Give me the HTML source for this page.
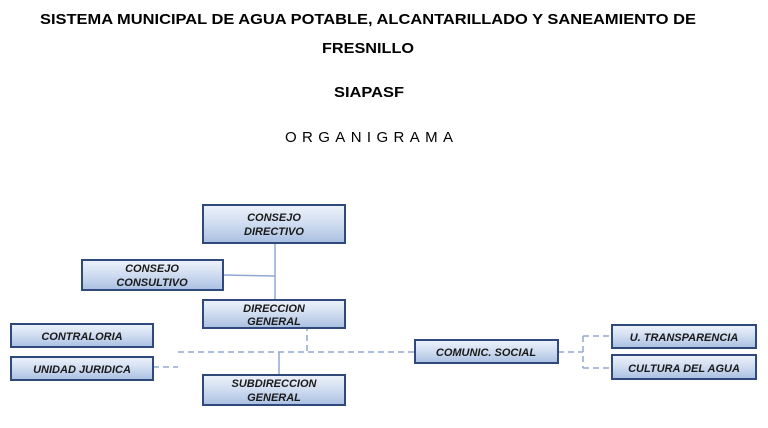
<!DOCTYPE html>
<html><head><meta charset="utf-8"><style>
html,body{margin:0;padding:0;background:#fff;width:768px;height:428px;overflow:hidden}
</style></head><body>
<svg width="768" height="428" viewBox="0 0 768 428" xmlns="http://www.w3.org/2000/svg">
<defs>
<linearGradient id="g" x1="0" y1="0" x2="0" y2="1">
<stop offset="0" stop-color="#eef3fb"/><stop offset="0.5" stop-color="#cfdcf0"/><stop offset="1" stop-color="#a9bfe2"/>
</linearGradient>
</defs>
<g font-family="Liberation Sans, sans-serif" font-weight="bold" font-size="15" fill="#000" text-anchor="middle">
<text x="368" y="24" textLength="656" lengthAdjust="spacingAndGlyphs">SISTEMA MUNICIPAL DE AGUA POTABLE, ALCANTARILLADO Y SANEAMIENTO DE</text>
<text x="368" y="53" textLength="92" lengthAdjust="spacingAndGlyphs">FRESNILLO</text>
<text x="369" y="97" textLength="70" lengthAdjust="spacingAndGlyphs">SIAPASF</text>
</g>
<text x="369" y="142" font-family="Liberation Sans, sans-serif" font-size="15" text-anchor="middle" textLength="168" lengthAdjust="spacing">ORGANIGRAMA</text>

<g stroke="#8fa9cf" stroke-width="1.5" fill="none">
<line x1="275" y1="243" x2="275" y2="300"/>
<line x1="223" y1="275" x2="275" y2="276"/>
<line x1="279" y1="352" x2="279" y2="375"/>
</g>
<g stroke="#8fa9cf" stroke-width="1.5" fill="none" stroke-dasharray="6,4">
<line x1="307" y1="305" x2="307" y2="352"/>
<line x1="178" y1="352" x2="415" y2="352"/>
<line x1="153" y1="367" x2="178" y2="367"/>
<line x1="558" y1="352" x2="583" y2="352"/>
<line x1="583" y1="336" x2="583" y2="368"/>
<line x1="583" y1="336" x2="612" y2="336"/>
<line x1="583" y1="368" x2="612" y2="368"/>
</g>

<g stroke="#2f4a7a" stroke-width="2" fill="url(#g)">
<rect x="203" y="205" width="142" height="38"/>
<rect x="82" y="260" width="141" height="30"/>
<rect x="203" y="300" width="142" height="28"/>
<rect x="11" y="324" width="142" height="23"/>
<rect x="11" y="357" width="142" height="23"/>
<rect x="203" y="375" width="142" height="30"/>
<rect x="415" y="340" width="143" height="23"/>
<rect x="612" y="325" width="144" height="23"/>
<rect x="612" y="355" width="144" height="24"/>
</g>
<g font-family="Liberation Sans, sans-serif" font-weight="bold" font-style="italic" font-size="11" fill="#1a1a1a" text-anchor="middle">
<text x="274" y="221">CONSEJO</text><text x="274" y="235">DIRECTIVO</text>
<text x="152" y="272">CONSEJO</text><text x="152" y="286">CONSULTIVO</text>
<text x="274" y="312">DIRECCION</text><text x="274" y="325">GENERAL</text>
<text x="82" y="340">CONTRALORIA</text>
<text x="82" y="373">UNIDAD JURIDICA</text>
<text x="274" y="387">SUBDIRECCION</text><text x="274" y="401">GENERAL</text>
<text x="486" y="356">COMUNIC. SOCIAL</text>
<text x="684" y="341">U. TRANSPARENCIA</text>
<text x="684" y="372">CULTURA DEL AGUA</text>
</g>
</svg>
</body></html>
